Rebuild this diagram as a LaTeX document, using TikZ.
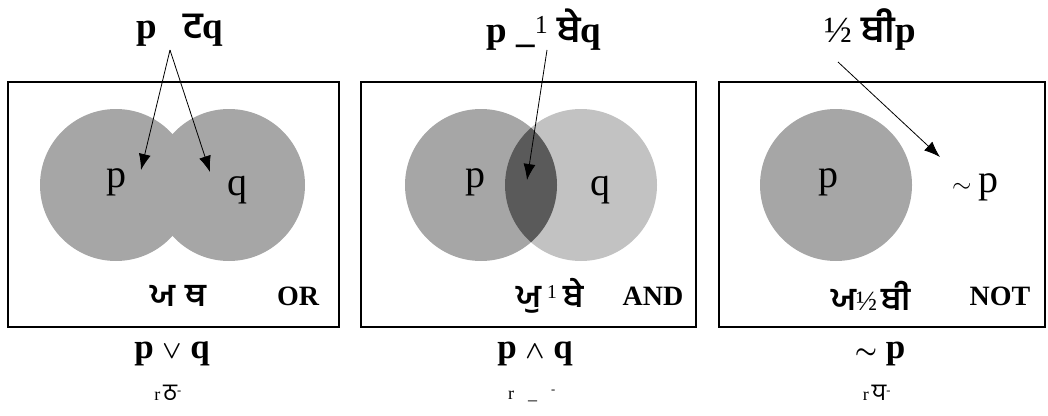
\documentclass[tikz,border=0pt]{standalone}
\usepackage{amsmath}
\usepackage{fontspec}
\setmainfont{Liberation Serif}
\newfontfamily\gur[Script=Gurmukhi]{Hind Jalandhar}
\usetikzlibrary{arrows.meta}

\definecolor{grismedio}{RGB}{166,166,166}
\definecolor{grisclaro}{RGB}{194,194,194}
\definecolor{grisoscuro}{RGB}{90,90,90}

\begin{document}
\begin{tikzpicture}[x=1pt, y=-1pt,
    caja/.style={draw, line width=1.1pt},
    letra/.style={font=\fontsize{40}{46}\selectfont, inner sep=0pt},
    titulo/.style={font=\fontsize{37}{44}\selectfont\bfseries, inner sep=0pt},
    formula/.style={font=\fontsize{35}{42}\selectfont\bfseries, inner sep=0pt},
    nombre/.style={font=\fontsize{28}{32}\selectfont\bfseries, inner sep=0pt},
    pie/.style={font=\fontsize{24}{28}\selectfont, inner sep=0pt},
    flecha/.style={-{Latex[length=16pt,width=12pt]}, line width=0.8pt}]

    \useasboundingbox (0,0) rectangle (1048,415);

    % cajas
    \draw[caja] (8,82) rectangle (339,327);
    \draw[caja] (361,82) rectangle (696,327);
    \draw[caja] (719,82) rectangle (1045,327);

    % circulos
    \fill[grismedio] (116,185) circle (76);
    \fill[grismedio] (229,185) circle (76);
    \begin{scope}
        \fill[grismedio] (481,185) circle (76);
        \fill[grisclaro] (581,185) circle (76);
        \clip (481,185) circle (76);
        \fill[grisoscuro] (581,185) circle (76);
    \end{scope}
    \fill[grismedio] (836,185) circle (76);

    % letras de los conjuntos
    \node[letra] (p1) at (116,182) {p};
    \node[letra] (q1) at (237,190) {q};
    \node[letra] (p2) at (475,182) {p};
    \node[letra] (q2) at (600,190) {q};
    \node[letra] (p3) at (828,182) {p};
    \node[letra] (np3) at (975,187) {$\sim$\,p};

    % titulos
    \node[titulo] (t1) at (180,30) {p\hspace{26pt}{\gur ਟ}q};
    \node[titulo] (t2) at (544,30) {p \_\textsuperscript{\normalfont 1} {\gur ਬੇ}q};
    \node[titulo] (t3) at (870,30) {{\normalfont ½} {\gur ਬੀ}p};

    % nombres dentro de las cajas
    \node[nombre] (n1) at (178,296) {\fontsize{32}{36}\gur ਯ\hspace{10pt}ਥ};
    \node[nombre] (o1) at (298,296) {OR};
    \node[nombre] (n2) at (550,296) {{\fontsize{32}{36}\gur ਯੁ}\hspace{6pt}\textsuperscript{\normalfont 1}\hspace{6pt}{\fontsize{32}{36}\gur ਬੇ}};
    \node[nombre] (o2) at (653,296) {AND};
    \node[nombre] (n3) at (871,296) {{\fontsize{32}{36}\gur ਯ}{\normalfont ½}\hspace{4pt}{\fontsize{32}{36}\gur ਬੀ}};
    \node[nombre] (o3) at (1000,296) {NOT};

    % formulas
    \node[formula] (f1) at (172,354) {p $\boldsymbol{\vee}$ q};
    \node[formula] (f2) at (535,354) {p $\boldsymbol{\wedge}$ q};
    \node[formula] (f3) at (880,354) {$\boldsymbol{\sim}$ p};

    % pies
    \node[pie] (r1) at (168,393) {\fontsize{18}{20}\selectfont r\,{\fontsize{24}{28}\gur ਠ}\textsuperscript{-}};
    \node[pie] (r2) at (532,396) {\fontsize{18}{20}\selectfont r\hspace{14pt}\_\hspace{14pt}\textsuperscript{-}};
    \node[pie] (r3) at (877,393) {\fontsize{18}{20}\selectfont r\,{\fontsize{24}{28}\gur ਧ}\textsuperscript{-}};

    % flechas
    \coordinate (a1) at (170,50);
    \coordinate (a2) at (547,50);
    \coordinate (a3) at (838,62);
    \coordinate (b1) at (141,170);
    \coordinate (b2) at (210,172);
    \coordinate (b3) at (527,180);
    \coordinate (b4) at (940,157);
    \draw[flecha] (a1) -- (b1);
    \draw[flecha] (a1) -- (b2);
    \draw[flecha] (a2) -- (b3);
    \draw[flecha] (a3) -- (b4);

\end{tikzpicture}
\end{document}
